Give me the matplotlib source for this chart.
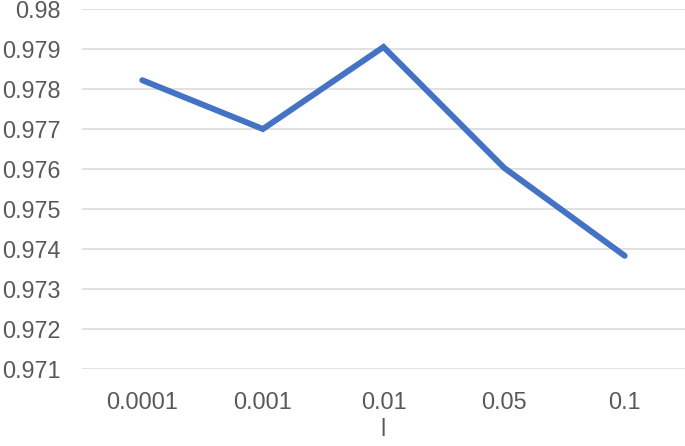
import matplotlib
matplotlib.use("Agg")
import matplotlib.pyplot as plt

categories = ["0.0001", "0.001", "0.01", "0.05", "0.1"]
values = [0.97822, 0.97700, 0.97905, 0.97603, 0.97383]
y_ticks = [0.971, 0.972, 0.973, 0.974, 0.975, 0.976, 0.977, 0.978, 0.979, 0.98]
y_tick_labels = ["0.971", "0.972", "0.973", "0.974", "0.975", "0.976", "0.977", "0.978", "0.979", "0.98"]
x_label = "l"

plt.rcParams['font.family'] = ['Liberation Sans', 'DejaVu Sans']

fig = plt.figure(figsize=(6.85, 4.46), dpi=100)
ax = fig.add_axes([82/685, 1-369/446, 1-82/685, (369-9)/446])

x = list(range(len(categories)))
ax.plot(x, values, color="#4472C4", lw=4.3, solid_capstyle="round", solid_joinstyle="miter", zorder=3)

ax.set_xlim(-0.5, len(categories) - 0.5)
ax.set_ylim(0.971, 0.98)
ax.set_yticks(y_ticks)
ax.set_yticklabels(y_tick_labels)
ax.set_xticks(x)
ax.set_xticklabels(categories)

ax.grid(axis="y", color="#d9d9d9", lw=1.1)
ax.set_axisbelow(True)
for s in ax.spines.values():
    s.set_visible(False)
ax.tick_params(axis="both", length=0, labelsize=16.8, labelcolor="#595959")
ax.tick_params(axis="y", pad=15.5)
ax.tick_params(axis="x", pad=15.5)
ax.set_xlabel(x_label, fontsize=16.8, color="#595959", labelpad=3)

fig.savefig("out.png", dpi=100)
